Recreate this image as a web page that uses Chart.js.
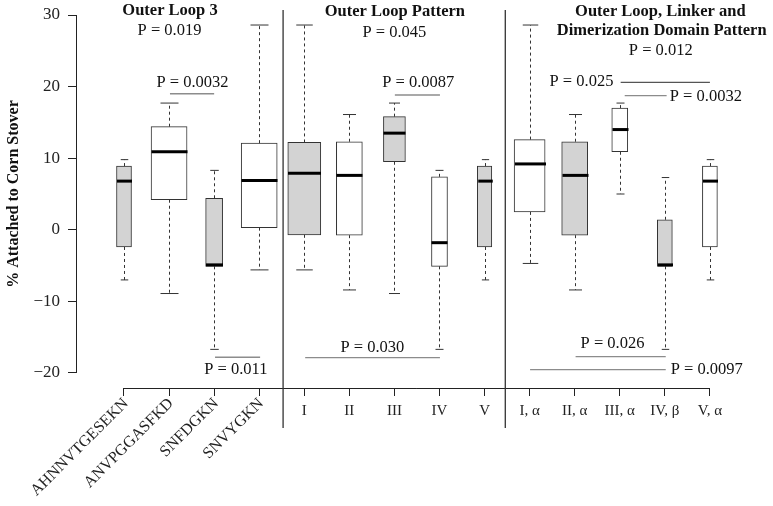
<!DOCTYPE html>
<html>
<head>
<meta charset="utf-8">
<title>Box plot</title>
<script src="https://cdn.jsdelivr.net/npm/chart.js@4.4.1/dist/chart.umd.min.js"></script>
<style>
  body { margin: 0; background: #fff; }
  #wrap { width: 773px; height: 506px; }
</style>
</head>
<body>
<div id="wrap"><canvas id="boxChart"></canvas></div>
<script>
// data, one box per category (x = 1..14)
var categories = ['AHNNVTGESEKN', 'ANVPGGASFKD', 'SNFDGKN', 'SNVYGKN',
  'I', 'II', 'III', 'IV', 'V',
  'I, α', 'II, α', 'III, α', 'IV, β', 'V, α'];
var whiskerLow  = [-7.0, -8.9, -16.7, -5.6, -5.6, -8.4, -8.9, -16.7, -7.0, -4.7, -8.4,  5.0, -16.7, -7.0];
var q1          = [-2.4,  4.2,  -5.1,  0.3, -0.7, -0.75, 9.5,  -5.1, -2.4,  2.5, -0.75, 10.9, -5.1, -2.4];
var median      = [ 6.8, 10.9,  -4.9,  6.9,  7.9,  7.6, 13.5,  -1.8,  6.8,  9.2,  7.6, 14.0,  -4.9,  6.8];
var q3          = [ 8.9, 14.4,   4.4, 12.1, 12.2, 12.3, 15.8,   7.4,  8.9, 12.6, 12.3, 17.0,   1.4,  8.9];
var whiskerHigh = [ 9.8, 17.7,   8.3, 28.6, 28.6, 16.1, 17.7,   8.3,  9.8, 28.6, 16.1, 17.7,   7.3,  9.8];
var yTicks = [-20, -10, 0, 10, 20, 30];

// annotations (x in category units, y in % units)
var groupTitles = [
  ['Outer Loop 3', 2.02, 30.0],
  ['Outer Loop Pattern', 7.01, 29.9],
  ['Outer Loop, Linker and', 12.9, 29.8],
  ['Dimerization Domain Pattern', 12.93, 27.2]
];
var pLabels = [
  ['P = 0.019', 2.01, 27.25],
  ['P = 0.0032', 2.52, 20.0],
  ['P = 0.011', 3.48, -20.2],
  ['P = 0.045', 7.0, 26.9],
  ['P = 0.0087', 7.53, 19.9],
  ['P = 0.030', 6.51, -17.1],
  ['P = 0.012', 12.91, 24.4],
  ['P = 0.025', 11.15, 20.1],
  ['P = 0.0032', 13.91, 18.0],
  ['P = 0.026', 11.84, -16.5],
  ['P = 0.0097', 13.93, -20.2]
];
var pLines = [
  [2.02, 3.0, 19.0],
  [3.02, 4.02, -17.8],
  [7.01, 8.01, 18.83],
  [5.02, 8.01, -17.86],
  [12.02, 14.0, 20.6],
  [12.11, 13.04, 18.73],
  [11.02, 13.02, -17.72],
  [10.01, 13.02, -19.54]
];
var groupDividers = [4.53, 9.46];

// styles
var serif = '"Liberation Serif", "Times New Roman", serif';
var boxWidths = [15, 36, 17, 36, 33, 26, 22, 16, 14.5, 31, 26, 16, 15, 15];
var boxFills = categories.map(function (c, i) { return i % 2 === 0 ? '#d3d3d3' : '#ffffff'; });
var rotatedCount = 4;
var ink = '#222';

Chart.defaults.font.family = serif;

var datasets = categories.map(function (c, i) {
  return {
    label: c,
    data: [{ x: i + 1, y: [q1[i], q3[i]] }],
    backgroundColor: boxFills[i],
    borderColor: '#333',
    borderWidth: 1,
    borderSkipped: false,
    barThickness: boxWidths[i],
    grouped: false
  };
});

var boxParts = {
  id: 'boxParts',
  afterDatasetsDraw: function (chart) {
    var ctx = chart.ctx, xs = chart.scales.x, ys = chart.scales.y;
    ctx.save();
    for (var i = 0; i < categories.length; i++) {
      var cx = Math.round(xs.getPixelForValue(i + 1)) + 0.5;
      var half = boxWidths[i] / 2;
      var cap = boxWidths[i] / 4;
      var yHi = ys.getPixelForValue(whiskerHigh[i]);
      var yLo = ys.getPixelForValue(whiskerLow[i]);
      ctx.strokeStyle = '#333';
      ctx.lineWidth = 1;
      ctx.setLineDash([3, 3]);
      ctx.beginPath();
      ctx.moveTo(cx, ys.getPixelForValue(q3[i]));
      ctx.lineTo(cx, yHi);
      ctx.moveTo(cx, ys.getPixelForValue(q1[i]));
      ctx.lineTo(cx, yLo);
      ctx.stroke();
      ctx.setLineDash([]);
      ctx.beginPath();
      ctx.moveTo(cx - cap, yHi); ctx.lineTo(cx + cap, yHi);
      ctx.moveTo(cx - cap, yLo); ctx.lineTo(cx + cap, yLo);
      ctx.stroke();
      var ym = ys.getPixelForValue(median[i]);
      ctx.strokeStyle = '#000';
      ctx.lineWidth = 3;
      ctx.beginPath();
      ctx.moveTo(cx - half, ym); ctx.lineTo(cx + half, ym);
      ctx.stroke();
    }
    ctx.restore();
  },
  afterDraw: function (chart) {
    var ctx = chart.ctx, xs = chart.scales.x, ys = chart.scales.y, area = chart.chartArea;
    ctx.save();
    // axis lines, only across the ticks
    ctx.strokeStyle = ink;
    ctx.lineWidth = 1;
    ctx.beginPath();
    ctx.moveTo(area.left + 0.5, ys.getPixelForValue(yTicks[yTicks.length - 1]));
    ctx.lineTo(area.left + 0.5, ys.getPixelForValue(yTicks[0]));
    ctx.moveTo(xs.getPixelForValue(1), area.bottom + 0.5);
    ctx.lineTo(xs.getPixelForValue(categories.length), area.bottom + 0.5);
    ctx.stroke();
    // group dividers
    ctx.strokeStyle = '#333';
    ctx.lineWidth = 1.3;
    ctx.beginPath();
    groupDividers.forEach(function (d) {
      var px = xs.getPixelForValue(d);
      ctx.moveTo(px, ys.getPixelForValue(30.7));
      ctx.lineTo(px, area.bottom + 40);
    });
    ctx.stroke();
    // p-value brackets
    ctx.lineWidth = 1.3;
    pLines.forEach(function (l, k) {
      ctx.strokeStyle = k === 4 ? '#555' : '#8c8c8c';
      ctx.beginPath();
      ctx.moveTo(xs.getPixelForValue(l[0]), ys.getPixelForValue(l[2]));
      ctx.lineTo(xs.getPixelForValue(l[1]), ys.getPixelForValue(l[2]));
      ctx.stroke();
    });
    // texts
    ctx.fillStyle = '#111';
    ctx.textAlign = 'center';
    ctx.textBaseline = 'alphabetic';
    ctx.font = 'bold 16.5px ' + serif;
    groupTitles.forEach(function (t) {
      ctx.fillText(t[0], xs.getPixelForValue(t[1]), ys.getPixelForValue(t[2]));
    });
    ctx.font = '16.5px ' + serif;
    pLabels.forEach(function (t) {
      ctx.fillText(t[0], xs.getPixelForValue(t[1]), ys.getPixelForValue(t[2]));
    });
    // category labels
    ctx.fillStyle = ink;
    for (var i = 0; i < categories.length; i++) {
      var px = xs.getPixelForValue(i + 1);
      if (i < rotatedCount) {
        ctx.save();
        ctx.font = '16px ' + serif;
        ctx.translate(px + 2, area.bottom + 13);
        ctx.rotate(-Math.PI / 4);
        ctx.textAlign = 'right';
        ctx.textBaseline = 'middle';
        ctx.fillText(categories[i], 0, 0);
        ctx.restore();
      } else {
        ctx.font = '15px ' + serif;
        ctx.textAlign = 'center';
        ctx.textBaseline = 'alphabetic';
        ctx.fillText(categories[i], px, area.bottom + 27);
      }
    }
    ctx.restore();
  }
};

var chart = new Chart(document.getElementById('boxChart'), {
  type: 'bar',
  data: { datasets: datasets },
  options: {
    responsive: true,
    maintainAspectRatio: false,
    animation: false,
    layout: { padding: 0 },
    plugins: { legend: { display: false }, tooltip: { enabled: false } },
    scales: {
      x: {
        type: 'linear',
        offset: false,
        min: -0.065,
        max: 15.4,
        afterBuildTicks: function (s) {
          s.ticks = categories.map(function (c, i) { return { value: i + 1 }; });
        },
        ticks: { display: false },
        grid: { offset: false, drawOnChartArea: false, tickLength: 8, color: ink },
        border: { display: false },
        afterFit: function (s) { s.height = 118; s.paddingLeft = 0; s.paddingRight = 0; }
      },
      y: {
        type: 'linear',
        min: -22.095,
        max: 32.095,
        afterBuildTicks: function (s) {
          s.ticks = yTicks.map(function (v) { return { value: v }; });
        },
        ticks: {
          padding: 8,
          color: ink,
          font: { size: 17 },
          callback: function (v) { return v < 0 ? '\u2212' + Math.abs(v) : String(v); }
        },
        grid: { drawOnChartArea: false, tickLength: 8, color: ink },
        border: { display: false },
        title: {
          display: true,
          text: '% Attached to Corn Stover',
          color: '#111',
          font: { size: 16, weight: 'bold' },
          padding: { top: 4, bottom: 0 }
        },
        afterFit: function (s) { s.width = 76; s.paddingTop = 0; s.paddingBottom = 0; }
      }
    }
  },
  plugins: [boxParts]
});
</script>
</body>
</html>
